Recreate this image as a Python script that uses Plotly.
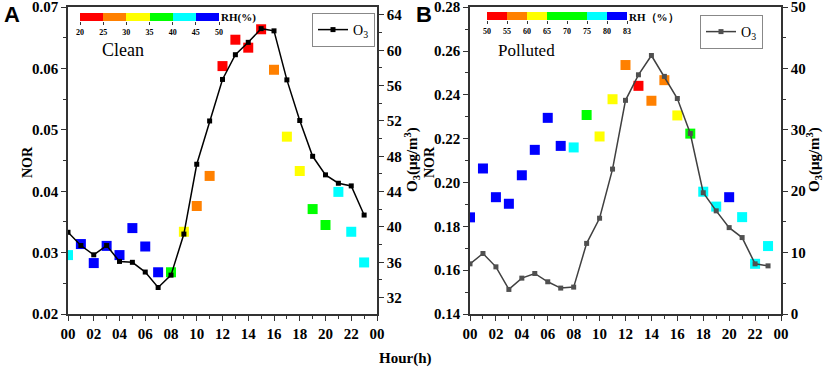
import plotly.graph_objects as go

# ---------------- data ----------------
hours = list(range(24))

# Panel A (Clean)
nor_clean = [0.0296, 0.0314, 0.0283, 0.0311, 0.0296, 0.0340, 0.0310, 0.0268,
             0.0268, 0.0334, 0.0376, 0.0425, 0.0604, 0.0647, 0.0634, 0.0664,
             0.0598, 0.0489, 0.0433, 0.0371, 0.0345, 0.0399, 0.0334, 0.0284]
rh_clean = [42, 47, 47, 47, 47, 47, 47, 47, 37, 32, 27, 27,
            22, 22, 22, 22, 27, 32, 32, 37, 37, 42, 42, 42]
o3_clean = [39.4, 37.9, 36.85, 37.9, 36.1, 36.0, 34.9, 33.15, 34.55, 39.2, 47.1, 52.0,
            56.7, 59.5, 60.9, 62.45, 62.2, 56.65, 52.05, 48.0, 45.9, 44.95, 44.65, 41.35]

# Panel B (Polluted)
nor_poll = [0.1841, 0.2064, 0.1933, 0.1903, 0.2033, 0.2149, 0.2295, 0.2167,
            0.2160, 0.2308, 0.2210, 0.2380, 0.2536, 0.2441, 0.2373, 0.2467,
            0.2306, 0.2223, 0.1958, 0.1890, 0.1933, 0.1842, 0.1629, 0.1710]
rh_poll = [81, 81, 81, 81, 81, 81, 81, 81, 77, 70, 62, 62,
           57, 52, 57, 57, 62, 70, 77, 77, 81, 77, 77, 77]
o3_poll = [8.17, 9.85, 7.68, 4.0, 5.84, 6.6, 5.25, 4.22, 4.38, 11.5, 15.6, 23.6,
           34.8, 38.96, 42.1, 38.7, 35.1, 29.4, 19.75, 16.8, 14.07, 12.45, 8.17, 7.84]

x_tickvals = list(range(0, 25, 2))
x_ticktext = ["00", "02", "04", "06", "08", "10", "12", "14", "16", "18", "20", "22", "00"]
nor_clean_ticks = [0.02, 0.03, 0.04, 0.05, 0.06, 0.07]
o3_clean_ticks = [32, 36, 40, 44, 48, 52, 56, 60, 64]
nor_poll_ticks = [0.14, 0.16, 0.18, 0.20, 0.22, 0.24, 0.26, 0.28]
o3_poll_ticks = [0, 10, 20, 30, 40, 50]

rh_ticks_clean = [20, 25, 30, 35, 40, 45, 50]
rh_ticks_poll = [50, 55, 60, 65, 70, 75, 80, 83]

RED, ORANGE, YELLOW, GREEN, CYAN, BLUE = "#FF0000", "#FF8000", "#FFFF00", "#00FF00", "#00FFFF", "#0000FF"
bins_clean = [RED, ORANGE, YELLOW, GREEN, CYAN, BLUE]
bins_poll = [RED, ORANGE, YELLOW, GREEN, GREEN, CYAN, BLUE]


def discrete_scale(colors):
    n = len(colors)
    sc = []
    for i, c in enumerate(colors):
        sc.append([i / n, c])
        sc.append([(i + 1) / n, c])
    return sc


def rh_pos_poll(v):
    # colour-bar position: equal-width bins 50-55-...-80-83
    for i in range(len(rh_ticks_poll) - 1):
        lo, hi = rh_ticks_poll[i], rh_ticks_poll[i + 1]
        if v <= hi:
            return i + (v - lo) / (hi - lo)
    return len(rh_ticks_poll) - 1


pos_poll = [rh_pos_poll(v) for v in rh_poll]

# ---------------- layout helpers ----------------
W, H = 823, 369
ML, MR, MT, MB = 68, 42, 7, 55
PW = W - ML - MR
PH = H - MT - MB


def px(x):
    return (x - ML) / PW


def py(y):
    return (MT + PH - y) / PH


SERIF = "Liberation Serif"
SANS = "Liberation Sans"

fig = go.Figure()

# Panel A
fig.add_trace(go.Scatter(x=hours, y=nor_clean, mode="markers", xaxis="x", yaxis="y",
                         marker=dict(symbol="square", size=10, color=rh_clean,
                                     coloraxis="coloraxis"),
                         showlegend=False, hoverinfo="skip"))
fig.add_trace(go.Scatter(x=hours, y=o3_clean, mode="lines+markers", xaxis="x", yaxis="y2",
                         name="O<sub>3</sub>", legend="legend",
                         line=dict(color="black", width=1.5),
                         marker=dict(symbol="square", size=5, color="black")))
# Panel B
fig.add_trace(go.Scatter(x=hours, y=nor_poll, mode="markers", xaxis="x2", yaxis="y3",
                         marker=dict(symbol="square", size=10, color=pos_poll,
                                     coloraxis="coloraxis2"),
                         showlegend=False, hoverinfo="skip"))
fig.add_trace(go.Scatter(x=hours, y=o3_poll, mode="lines+markers", xaxis="x2", yaxis="y4",
                         name="O<sub>3</sub>", legend="legend2",
                         line=dict(color="#404040", width=1.5),
                         marker=dict(symbol="square", size=5, color="#505050")))

# colour bars (drawn as heatmaps on small axes)
fig.add_trace(go.Heatmap(x=rh_ticks_clean, z=[list(range(len(bins_clean)))], y=[0],
                         xaxis="x3", yaxis="y5", colorscale=discrete_scale(bins_clean),
                         zmin=-0.5, zmax=len(bins_clean) - 0.5, showscale=False,
                         hoverinfo="skip"))
fig.add_trace(go.Heatmap(x=list(range(len(rh_ticks_poll))), z=[list(range(len(bins_poll)))],
                         y=[0], xaxis="x4", yaxis="y6", colorscale=discrete_scale(bins_poll),
                         zmin=-0.5, zmax=len(bins_poll) - 0.5, showscale=False,
                         hoverinfo="skip"))

tickfont = dict(family=SERIF, size=15, color="black", weight="bold")
common_axis = dict(showline=True, linecolor="#333", linewidth=1.5, ticks="outside",
                   ticklen=5, tickcolor="#333", tickwidth=1.2, showgrid=False,
                   zeroline=False, tickfont=tickfont, ticklabeloverflow="allow")

xcommon = dict(common_axis, range=[0, 24], tickvals=x_tickvals, ticktext=x_ticktext,
               mirror=True,
               minor=dict(tick0=0, dtick=1, ticks="outside", ticklen=3, tickcolor="#333"))

cbfont = dict(family=SERIF, size=8, color="black", weight="bold")
cbaxis = dict(showline=False, ticks="outside", ticklen=3, tickcolor="#333", tickwidth=1,
              showgrid=False, zeroline=False, tickfont=cbfont, fixedrange=True)

fig.update_layout(
    width=W, height=H, margin=dict(l=ML, r=MR, t=MT, b=MB, autoexpand=False),
    paper_bgcolor="white", plot_bgcolor="white",
    xaxis=dict(xcommon, domain=[0, px(377)], anchor="y"),
    xaxis2=dict(xcommon, domain=[px(470), 1], anchor="y3"),
    yaxis=dict(common_axis, range=[0.02, 0.07003], tickvals=nor_clean_ticks,
               ticktext=[f"{v:.2f}" for v in nor_clean_ticks], anchor="x",
               minor=dict(tick0=0.02, dtick=0.005, ticks="outside", ticklen=3, tickcolor="#333")),
    yaxis2=dict(common_axis, range=[30.15, 64.9], tickvals=o3_clean_ticks,
                overlaying="y", side="right", anchor="x",
                minor=dict(tick0=32, dtick=2, ticks="outside", ticklen=3, tickcolor="#333")),
    yaxis3=dict(common_axis, range=[0.14, 0.28008], tickvals=nor_poll_ticks,
                ticktext=[f"{v:.2f}" for v in nor_poll_ticks], anchor="x2",
                minor=dict(tick0=0.14, dtick=0.01, ticks="outside", ticklen=3, tickcolor="#333")),
    yaxis4=dict(common_axis, range=[0, 50], tickvals=o3_poll_ticks, overlaying="y3",
                side="right", anchor="x2",
                minor=dict(tick0=0, dtick=5, ticks="outside", ticklen=3, tickcolor="#333")),
    xaxis3=dict(cbaxis, domain=[px(80), px(219)], anchor="y5", range=[20, 50],
                tickvals=rh_ticks_clean),
    yaxis5=dict(domain=[py(21), py(13)], anchor="x3", visible=False, range=[-0.5, 0.5],
                fixedrange=True),
    xaxis4=dict(cbaxis, domain=[px(487), px(627)], anchor="y6",
                range=[0, len(rh_ticks_poll) - 1],
                tickvals=list(range(len(rh_ticks_poll))),
                ticktext=[str(v) for v in rh_ticks_poll]),
    yaxis6=dict(domain=[py(20), py(12)], anchor="x4", visible=False, range=[-0.5, 0.5],
                fixedrange=True),
    coloraxis=dict(cmin=20, cmax=50, colorscale=discrete_scale(bins_clean), showscale=False),
    coloraxis2=dict(cmin=0, cmax=len(rh_ticks_poll) - 1, colorscale=discrete_scale(bins_poll),
                    showscale=False),
    legend=dict(x=px(312), y=py(13), xanchor="left", yanchor="top",
                bordercolor="#888", borderwidth=1, bgcolor="white",
                font=dict(family=SERIF, size=14, color="black"),
                tracegroupgap=0, itemwidth=30),
    legend2=dict(x=px(700), y=py(15), xanchor="left", yanchor="top",
                 bordercolor="#888", borderwidth=1, bgcolor="white",
                 font=dict(family=SERIF, size=14, color="black"),
                 tracegroupgap=0, itemwidth=30),
)

o3_title = "O<sub>3</sub>(μg/m<sup>3</sup>)"
annots = [
    dict(text="A", x=px(2), y=py(14), xanchor="left", yanchor="middle",
         font=dict(family=SANS, size=22, color="black", weight="bold")),
    dict(text="B", x=px(414), y=py(14), xanchor="left", yanchor="middle",
         font=dict(family=SANS, size=22, color="black", weight="bold")),
    dict(text="RH(%)", x=px(219), y=py(17), xanchor="left", yanchor="middle",
         font=dict(family=SERIF, size=11, color="black", weight="bold")),
    dict(text="RH（%）", x=px(627), y=py(17), xanchor="left", yanchor="middle",
         font=dict(family=SERIF, size=11, color="black", weight="bold")),
    dict(text="Clean", x=px(100), y=py(50), xanchor="left", yanchor="middle",
         font=dict(family=SERIF, size=18, color="black")),
    dict(text="Polluted", x=px(496), y=py(51), xanchor="left", yanchor="middle",
         font=dict(family=SERIF, size=17, color="black")),
    dict(text="NOR", x=px(27), y=py(162), textangle=-90, xanchor="center", yanchor="middle",
         font=dict(family=SERIF, size=14, color="black", weight="bold")),
    dict(text=o3_title, x=px(412), y=py(160), textangle=-90, xanchor="center", yanchor="middle",
         font=dict(family=SERIF, size=15, color="black", weight="bold")),
    dict(text="NOR", x=px(429), y=py(162), textangle=-90, xanchor="center", yanchor="middle",
         font=dict(family=SERIF, size=14, color="black", weight="bold")),
    dict(text=o3_title, x=px(814), y=py(160), textangle=-90, xanchor="center", yanchor="middle",
         font=dict(family=SERIF, size=15, color="black", weight="bold")),
    dict(text="Hour(h)", x=px(405), y=py(358), xanchor="center", yanchor="middle",
         font=dict(family=SERIF, size=15, color="black", weight="bold")),
]
for a in annots:
    a.update(xref="paper", yref="paper", showarrow=False)
fig.update_layout(annotations=annots)

fig.write_html("out.html", config={"displayModeBar": False},
               post_script="document.body.style.margin='0';document.body.style.overflow='hidden';")
